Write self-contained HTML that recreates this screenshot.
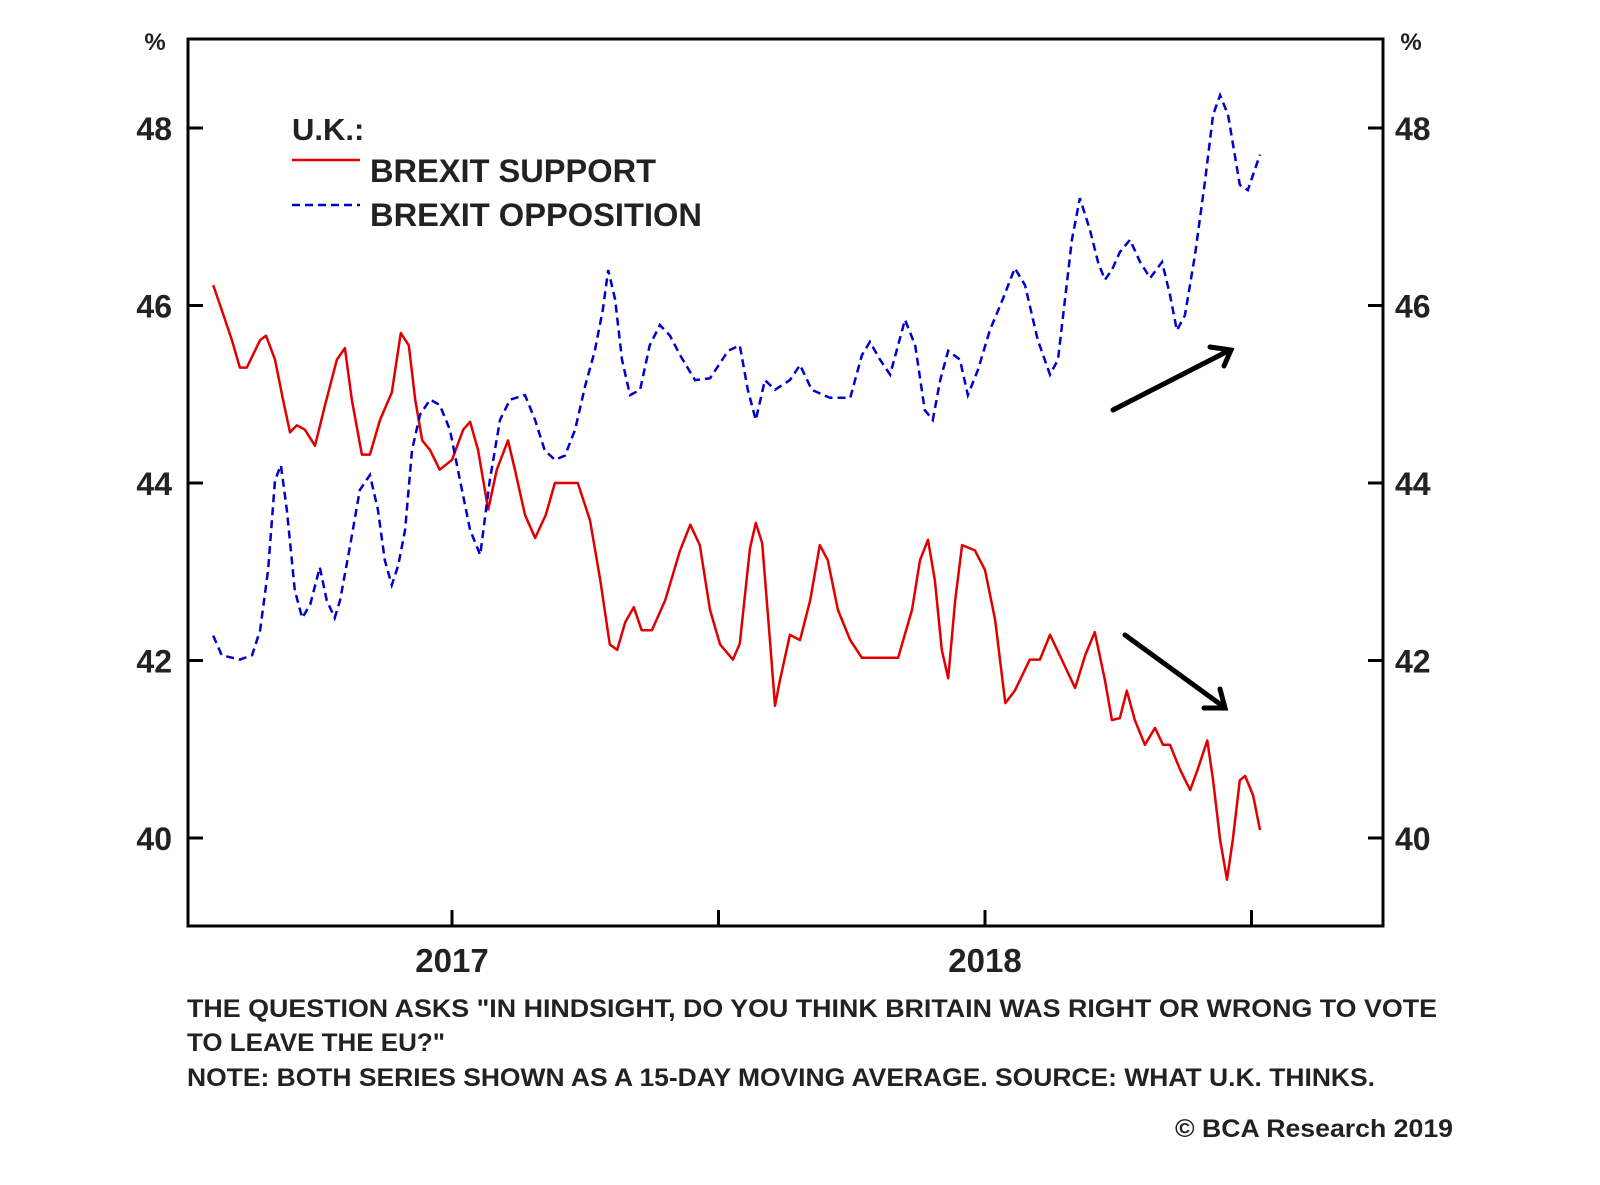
<!DOCTYPE html>
<html><head><meta charset="utf-8"><style>
html,body{margin:0;padding:0;background:#fff;}
svg{display:block;font-family:"Liberation Sans",Arial,sans-serif;}
</style></head><body>
<svg id="chart" width="1600" height="1185" viewBox="0 0 1600 1185">
<rect x="0" y="0" width="1600" height="1185" fill="#fff"/>
<rect x="188" y="39" width="1195" height="887" fill="none" stroke="#000" stroke-width="3"/>
<g id="axes"></g>
<g id="series"></g>
<g>
<text x="292" y="140" font-size="31" font-weight="bold" fill="#222">U.K.:</text>
<line x1="292" y1="160" x2="360" y2="160" stroke="#e00000" stroke-width="2.5"/>
<text x="370" y="182" font-size="32" font-weight="bold" fill="#222" textLength="286" lengthAdjust="spacingAndGlyphs">BREXIT SUPPORT</text>
<line x1="292" y1="205" x2="360" y2="205" stroke="#0000cc" stroke-width="2.5" stroke-dasharray="8,5"/>
<text x="370" y="226" font-size="32" font-weight="bold" fill="#222" textLength="332" lengthAdjust="spacingAndGlyphs">BREXIT OPPOSITION</text>
</g>
<g stroke="#000" stroke-width="5" fill="none" stroke-linecap="round">
<line x1="1113" y1="410" x2="1230" y2="350"/>
<polyline points="1210,347 1231,350 1224,366"/>
<line x1="1125" y1="635" x2="1224" y2="707"/>
<polyline points="1220,689 1225,708 1204,708"/>
</g>
<g font-weight="bold" fill="#222" font-size="25">
<text x="187" y="1017" textLength="1250" lengthAdjust="spacingAndGlyphs">THE QUESTION ASKS "IN HINDSIGHT, DO YOU THINK BRITAIN WAS RIGHT OR WRONG TO VOTE</text>
<text x="187" y="1051" textLength="258" lengthAdjust="spacingAndGlyphs">TO LEAVE THE EU?"</text>
<text x="187" y="1086" textLength="1188" lengthAdjust="spacingAndGlyphs">NOTE: BOTH SERIES SHOWN AS A 15-DAY MOVING AVERAGE. SOURCE: WHAT U.K. THINKS.</text>
<text x="1175" y="1137" textLength="278" lengthAdjust="spacingAndGlyphs">© BCA Research 2019</text>
</g>
</svg>
<script>
// time in years relative to 2017-01-01
const supportT = [-0.448,-0.432,-0.413,-0.398,-0.385,-0.360,-0.349,-0.332,-0.317,-0.304,-0.291,-0.276,-0.257,-0.238,-0.216,-0.201,-0.188,-0.169,-0.154,-0.135,-0.113,-0.096,-0.081,-0.069,-0.056,-0.041,-0.023,0.000,0.021,0.034,0.049,0.068,0.084,0.105,0.118,0.137,0.156,0.176,0.193,0.236,0.259,0.278,0.296,0.310,0.325,0.341,0.356,0.375,0.400,0.428,0.447,0.465,0.484,0.503,0.527,0.540,0.559,0.570,0.582,0.597,0.606,0.615,0.634,0.653,0.672,0.690,0.705,0.724,0.747,0.769,0.837,0.863,0.878,0.893,0.906,0.919,0.931,0.944,0.957,0.981,1.000,1.019,1.038,1.056,1.084,1.103,1.122,1.144,1.169,1.188,1.206,1.225,1.238,1.253,1.266,1.281,1.300,1.319,1.334,1.347,1.366,1.385,1.400,1.417,1.428,1.441,1.454,1.465,1.478,1.488,1.503,1.516];
const supportV = [46.23,45.95,45.61,45.30,45.30,45.61,45.66,45.39,44.94,44.57,44.65,44.60,44.42,44.88,45.39,45.52,44.94,44.32,44.32,44.71,45.02,45.69,45.55,44.94,44.48,44.37,44.15,44.26,44.60,44.69,44.37,43.70,44.15,44.48,44.15,43.64,43.38,43.64,44.00,44.00,43.58,42.91,42.18,42.12,42.43,42.60,42.34,42.34,42.68,43.24,43.53,43.30,42.57,42.18,42.01,42.19,43.26,43.55,43.32,42.19,41.49,41.77,42.29,42.23,42.68,43.30,43.13,42.57,42.23,42.03,42.03,42.57,43.13,43.36,42.90,42.12,41.80,42.68,43.30,43.24,43.02,42.46,41.52,41.66,42.01,42.01,42.29,42.01,41.69,42.06,42.32,41.78,41.33,41.35,41.66,41.33,41.05,41.24,41.05,41.05,40.77,40.54,40.79,41.10,40.65,39.98,39.53,39.98,40.65,40.70,40.48,40.09];
const oppT = [-0.448,-0.432,-0.398,-0.375,-0.360,-0.345,-0.332,-0.321,-0.310,-0.295,-0.281,-0.266,-0.248,-0.235,-0.220,-0.210,-0.191,-0.173,-0.154,-0.139,-0.126,-0.113,-0.101,-0.088,-0.075,-0.060,-0.041,-0.023,-0.004,0.015,0.034,0.053,0.071,0.090,0.109,0.137,0.156,0.174,0.193,0.212,0.231,0.250,0.268,0.283,0.293,0.306,0.319,0.334,0.353,0.371,0.390,0.409,0.428,0.456,0.484,0.518,0.540,0.555,0.570,0.587,0.606,0.634,0.653,0.675,0.709,0.747,0.769,0.784,0.803,0.822,0.850,0.869,0.887,0.902,0.916,0.931,0.953,0.968,0.987,1.009,1.034,1.056,1.075,1.099,1.122,1.137,1.150,1.163,1.178,1.197,1.212,1.225,1.238,1.253,1.272,1.291,1.310,1.332,1.347,1.360,1.375,1.394,1.413,1.428,1.441,1.456,1.478,1.493,1.516];
const oppV = [42.28,42.06,42.01,42.06,42.34,43.02,44.03,44.20,43.70,42.79,42.48,42.63,43.05,42.68,42.48,42.68,43.30,43.92,44.09,43.70,43.13,42.85,43.07,43.47,44.37,44.77,44.94,44.88,44.60,44.03,43.47,43.19,44.03,44.71,44.94,44.99,44.71,44.37,44.26,44.31,44.60,45.10,45.49,45.95,46.40,46.07,45.39,44.99,45.05,45.55,45.78,45.66,45.44,45.16,45.18,45.49,45.55,45.05,44.71,45.16,45.05,45.16,45.33,45.05,44.96,44.96,45.44,45.59,45.39,45.22,45.84,45.55,44.82,44.71,45.16,45.49,45.39,44.99,45.28,45.72,46.08,46.42,46.23,45.61,45.22,45.39,46.06,46.74,47.21,46.85,46.49,46.29,46.40,46.60,46.74,46.49,46.31,46.49,46.12,45.72,45.89,46.57,47.41,48.15,48.37,48.15,47.36,47.30,47.70];
const yTicks = [40,42,44,46,48];
const yTickLabels = ["40","42","44","46","48"];
const xTicks = [0,0.5,1,1.5];
const xLabelPos = [0,1];
const xLabels = ["2017","2018"];

const NS="http://www.w3.org/2000/svg";
function xScale(t){return 452 + t*533;}
function yScale(v){return 128 + (48 - v)*88.75;}
function mk(tag, attrs, parent){
  const e=document.createElementNS(NS,tag);
  for(const k in attrs) e.setAttribute(k, attrs[k]);
  parent.appendChild(e); return e;
}
const axes=document.getElementById('axes');
yTicks.forEach((v,i)=>{
  const y=yScale(v);
  const l=mk('line',{x1:188,y1:y,x2:203,y2:y,stroke:'#000','stroke-width':3},axes);
  
  
  const r=mk('line',{x1:1368,y1:y,x2:1383,y2:y,stroke:'#000','stroke-width':3},axes);
  
  
  const tl=mk('text',{x:172,y:y+12,'text-anchor':'end','font-size':32,'font-weight':'bold',fill:'#222'},axes);
  tl.textContent=yTickLabels[i];
  
  
  const tr=mk('text',{x:1395,y:y+12,'font-size':32,'font-weight':'bold',fill:'#222'},axes);
  tr.textContent=yTickLabels[i];
  
  
});
[[155,'y-unit-left'],[1411,'y-unit-right']].forEach(p=>{
  const t=mk('text',{x:p[0],y:50,'text-anchor':'middle','font-size':24,'font-weight':'bold',fill:'#222'},axes);
  t.textContent='%';
  
  
});
xTicks.forEach(t=>{
  const x=xScale(t);
  const l=mk('line',{x1:x,y1:926,x2:x,y2:910,stroke:'#000','stroke-width':3},axes);
  
  
});
xLabelPos.forEach((t,i)=>{
  const tx=mk('text',{x:xScale(t),y:972,'text-anchor':'middle','font-size':33,'font-weight':'bold',fill:'#222'},axes);
  tx.textContent=xLabels[i];
  
  
});
const series=document.getElementById('series');
function path(T,V){return T.map((t,i)=>(i?'L':'M')+xScale(t).toFixed(1)+','+yScale(V[i]).toFixed(1)).join(' ');}
const sp=mk('path',{d:path(supportT,supportV),fill:'none',stroke:'#e00000','stroke-width':2.5,'stroke-linejoin':'round'},series);


const op=mk('path',{d:path(oppT,oppV),fill:'none',stroke:'#0000cc','stroke-width':2.5,'stroke-dasharray':'8,5'},series);


</script>
</body></html>
